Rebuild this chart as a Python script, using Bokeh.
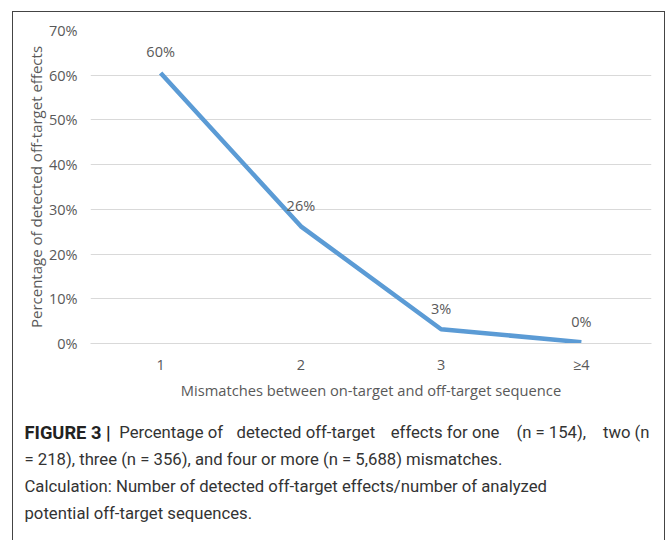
from bokeh.plotting import figure
from bokeh.layouts import column, row
from bokeh.models import FactorRange, PrintfTickFormatter, FixedTicker, Range1d
from bokeh.embed import file_html
from bokeh.resources import INLINE
from bokeh.core.properties import value

categories = ["1", "2", "3", "≥4"]
percent = [60.5, 26.2, 3.2, 0.3]
point_labels = ["60%", "26%", "3%", "0%"]
y_ticks = [0, 10, 20, 30, 40, 50, 60, 70]

x_title = "Mismatches between on-target and off-target sequence"
y_title = "Percentage of detected off-target effects"
caption_bold = "FIGURE 3 |"
# first caption line is justified in the original, so it is set in word groups
caption_first = ["Percentage of", "detected off-target", "effects for one",
                 "(n = 154),", "two (n"]
caption_lines = [
    "= 218), three (n = 356), and four or more (n = 5,688) mismatches.",
    "Calculation: Number of detected off-target effects/number of analyzed",
    "potential off-target sequences.",
]

FONT = "Open Sans"
GREY = "#595959"
W = 651

p = figure(x_range=FactorRange(*categories), y_range=(0, 70),
           width=W, height=395, output_backend="svg", toolbar_location=None,
           min_border_left=77, min_border_right=13, min_border_top=18,
           min_border_bottom=64)
p.outline_line_color = None
p.background_fill_color = "white"
p.border_fill_color = "white"

p.line(x=categories, y=percent, line_color="#5B9BD5", line_width=4.5,
       line_join="round")
p.text(x=categories, y=percent, text=point_labels, text_align="center",
       text_baseline="middle", y_offset=-21, text_font=value(FONT),
       text_font_size="14.5px", text_color=GREY)

p.xgrid.grid_line_color = None
p.ygrid.grid_line_color = "#D9D9D9"
p.ygrid.grid_line_width = 1.2

p.yaxis.ticker = FixedTicker(ticks=y_ticks)
p.yaxis.formatter = PrintfTickFormatter(format="%d%%")
for ax in (p.xaxis[0], p.yaxis[0]):
    ax.major_tick_line_color = None
    ax.minor_tick_line_color = None
    ax.major_tick_out = 0
    ax.major_tick_in = 0
    ax.minor_tick_out = 0
    ax.major_label_text_font = FONT
    ax.major_label_text_font_size = "14.5px"
    ax.major_label_text_color = GREY
    ax.axis_label_text_font = FONT
    ax.axis_label_text_font_style = "normal"
    ax.axis_label_text_color = GREY
p.xaxis.axis_label_text_font_size = "14.7px"
p.yaxis.axis_label_text_font_size = "15px"
p.yaxis.axis_line_color = None
p.xaxis.axis_line_color = "#D9D9D9"
p.xaxis.axis_label = x_title
p.yaxis.axis_label = y_title
p.xaxis.major_label_standoff = 11
p.xaxis.axis_label_standoff = 3
p.yaxis.major_label_standoff = 13
p.yaxis.axis_label_standoff = 0

# caption panel
CAP_FONT = "Roboto"
CH = 134
c = figure(width=W, height=CH, output_backend="svg", toolbar_location=None,
           x_range=Range1d(0, W), y_range=Range1d(CH, 0),
           x_axis_location=None, y_axis_location=None,
           min_border=0, min_border_left=0, min_border_right=0,
           min_border_top=0, min_border_bottom=0)
c.grid.grid_line_color = None
c.outline_line_color = None
c.background_fill_color = "white"
c.border_fill_color = "white"

cap_y = [24.5, 51.5, 78.5, 105.5]
c.text(x=[11], y=[cap_y[0]], text=[caption_bold], text_font=value(CAP_FONT),
       text_font_size="18.3px", text_font_style="bold", text_color="#222222",
       text_baseline="middle", text_align="left")
# justified first line: word groups spread across the line width
c.text(x=[157.6, 292.3, 431.6, 537.8, 636], y=[cap_y[0]] * 5,
       text=caption_first,
       text_align=["center", "center", "center", "center", "right"],
       text_font=value(CAP_FONT), text_font_size="16.7px",
       text_color="#333333", text_baseline="middle")
c.text(x=[11, 11, 11], y=cap_y[1:], text=caption_lines,
       text_font=value(CAP_FONT), text_font_size="16.7px",
       text_color="#333333", text_baseline="middle", text_align="left")

layout = column(p, row(c), spacing=0,
                styles={"border": "1.5px solid #444444",
                        "margin-left": "12px", "margin-top": "11px"})

open("out.html", "w").write(file_html(layout, INLINE))
